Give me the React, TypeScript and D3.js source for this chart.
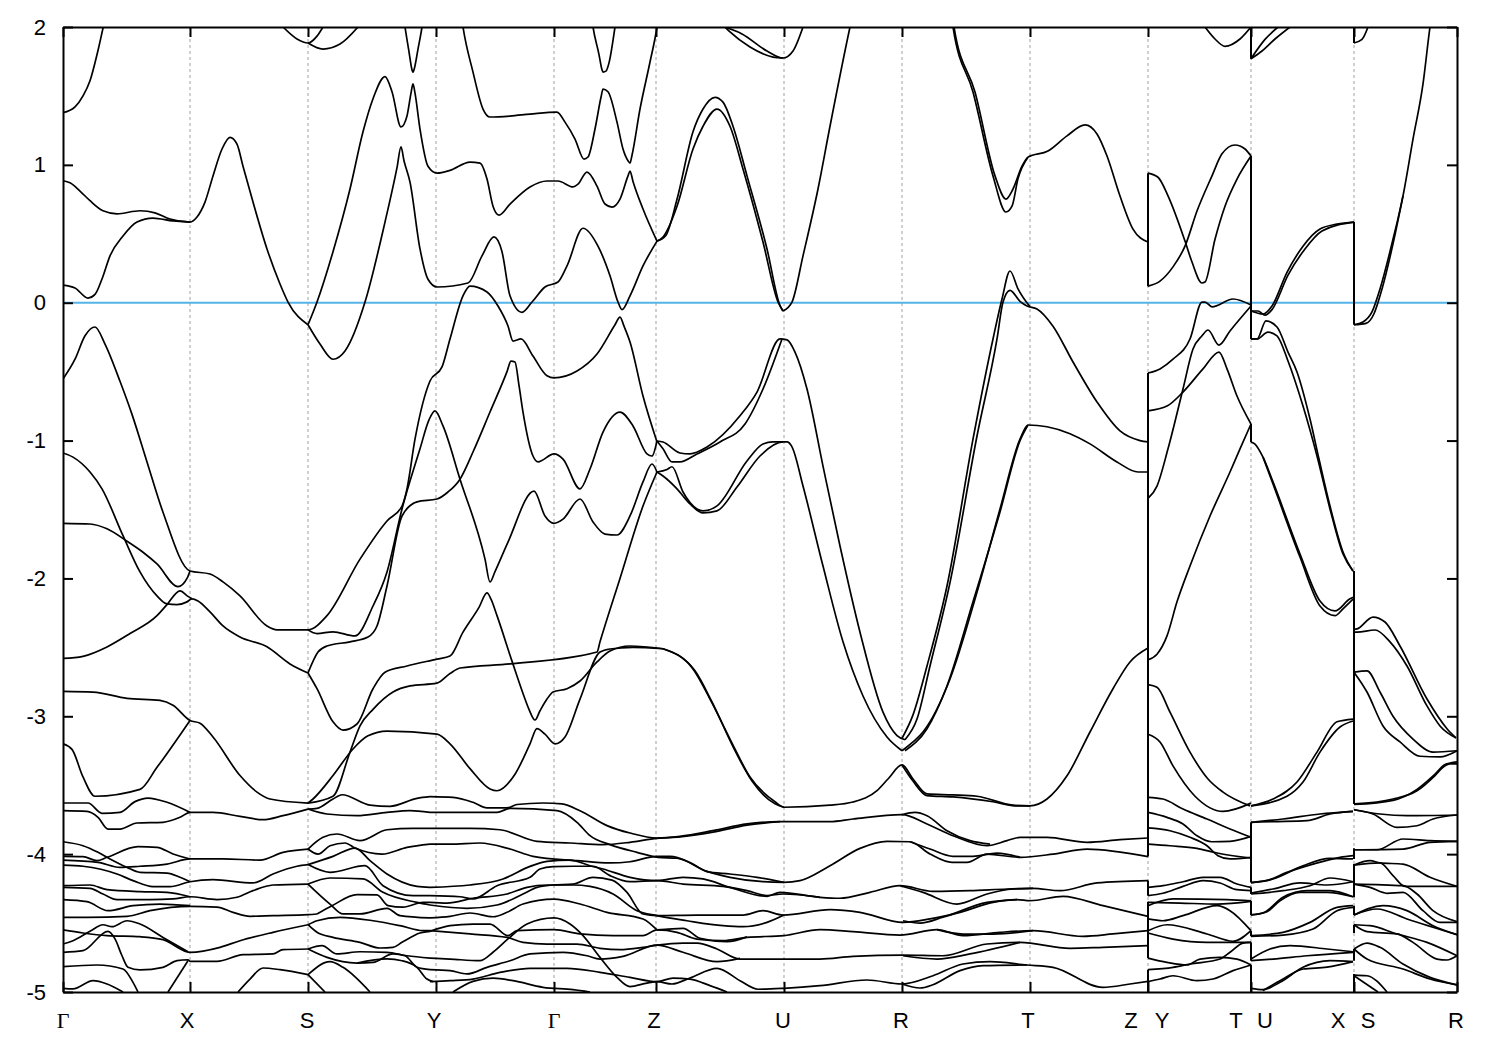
import { useEffect, useRef } from "react";
import * as d3 from "d3";

// k is the distance along the path, E the energy. Every band is a flat list: k, E, k, E, ...
const tickK = [0, 127, 245, 373, 491, 593, 721, 839, 967, 1085, 1188, 1291, 1394];
const energyTicks = [2, 1, 0, -1, -2, -3, -4, -5];
const labelNames = ["Γ", "X", "S", "Y", "Γ", "Z", "U", "R", "T", "Z", "Y", "T", "U", "X", "S", "R"];
const labelK = [0, 124, 244, 371, 491, 591, 720, 838, 965, 1068, 1099, 1173, 1202, 1275, 1305, 1393];

// conduction side, above the gap
const conduction: number[][] = [
  [0, 1.378, 12, 1.42, 20, 1.5, 27, 1.61, 35, 1.83, 42, 2.05, 44, 2.1],
  [0, 0.885, 7, 0.87, 17, 0.81, 27, 0.74, 40, 0.667, 54, 0.645, 77, 0.667, 92, 0.652, 107, 0.607, 127, 0.585, 134, 0.622, 142, 0.73, 150, 0.92, 159, 1.115, 167, 1.2, 174, 1.15, 180, 0.99, 190, 0.73, 204, 0.39, 217, 0.136, 225, 0.005, 245, -0.16],
  [0, 0.128, 12, 0.107, 25, 0.034, 32, 0.06, 39, 0.172, 47, 0.34, 60, 0.484, 74, 0.585, 90, 0.614, 110, 0.593, 127, 0.585],
  [245, -0.16, 257, -0.3, 270, -0.41, 282, -0.35, 302, 0.005, 322, 0.585, 334, 0.98, 338, 1.13, 341, 1.03, 347, 0.875, 357, 0.39, 365, 0.17, 374, 0.114, 405, 0.143, 419, 0.34, 431, 0.477, 439, 0.37, 447, 0.05, 459, -0.07, 469, 0.005, 482, 0.114, 495, 0.15, 504, 0.267, 520, 0.54, 535, 0.41, 547, 0.195, 555, 0.005, 559, -0.05, 567, 0.05, 580, 0.267, 594, 0.447],
  [245, -0.16, 254, 0.005, 270, 0.37, 287, 0.825, 300, 1.24, 310, 1.48, 322, 1.64, 329, 1.53, 338, 1.275, 344, 1.355, 348, 1.52, 350, 1.587, 352, 1.52, 357, 1.26, 365, 0.99, 374, 0.94, 387, 0.96, 407, 1.02, 417, 1.013, 424, 0.897, 430, 0.7, 436, 0.636, 447, 0.716, 467, 0.84, 484, 0.883, 495, 0.883, 510, 0.84, 515, 0.86, 524, 0.948, 534, 0.846, 542, 0.716, 549, 0.694, 557, 0.752, 565, 0.92, 567, 0.955, 570, 0.88, 580, 0.68, 594, 0.447],
  [594, 0.447, 600, 0.477, 614, 0.7, 630, 1.115, 640, 1.28, 654, 1.405, 667, 1.28, 680, 0.97, 700, 0.44, 715, 0.005, 720, -0.06],
  [594, 0.447, 603, 0.49, 614, 0.75, 630, 1.24, 640, 1.405, 652, 1.49, 660, 1.455, 670, 1.28, 684, 0.92, 704, 0.39, 717, -0.02, 720, -0.06],
  [720, -0.06, 729, 0.005, 740, 0.34, 755, 0.825, 767, 1.28, 787, 2.0, 790, 2.1],
  [340, 2.1, 342, 2.0, 346, 1.82, 349, 1.69, 350, 1.673, 351, 1.69, 355, 1.84, 359, 2.0, 361, 2.1],
  [398, 2.1, 400, 2.0, 410, 1.673, 420, 1.405, 427, 1.347, 447, 1.354, 467, 1.368, 494, 1.383, 502, 1.31, 512, 1.187, 521, 1.042, 525, 1.057, 532, 1.26, 538, 1.49, 540, 1.55, 545, 1.53, 554, 1.31, 560, 1.115, 565, 1.03, 567, 1.013, 569, 1.07, 577, 1.405, 587, 1.746, 594, 2.0, 596, 2.1],
  [528, 2.1, 530, 2.0, 536, 1.8, 539, 1.69, 540, 1.673, 543, 1.68, 546, 1.74, 552, 2.0, 554, 2.1],
  [220, 2.0, 234, 1.913, 245, 1.884, 254, 1.934, 260, 2.0],
  [245, 1.884, 260, 1.84, 277, 1.876, 295, 2.0],
  [662, 2.0, 679, 1.95, 704, 1.826, 720, 1.775, 730, 1.826, 740, 2.0],
  [662, 2.0, 667, 1.964, 687, 1.855, 710, 1.782, 720, 1.775],
  [888, 2.1, 890, 2.0, 910, 1.528, 930, 0.92, 943, 0.658, 949, 0.7, 955, 0.9, 965, 1.056],
  [889, 2.1, 891, 2.0, 912, 1.528, 932, 0.92, 943, 0.752, 950, 0.825, 959, 0.99, 965, 1.056, 985, 1.1, 1004, 1.21, 1022, 1.29, 1034, 1.224, 1044, 1.064, 1057, 0.774, 1070, 0.534, 1085, 0.44],
];

// valence side, from -0.1 down to -3.6, first half of the path
const valenceLeft: number[][] = [
  [0, -0.553, 12, -0.41, 22, -0.24, 32, -0.176, 42, -0.3, 57, -0.57, 69, -0.81, 84, -1.155, 100, -1.52, 127, -1.946, 147, -1.968, 160, -2.025, 177, -2.127, 204, -2.345, 214, -2.373, 245, -2.373, 264, -2.27, 297, -1.86, 324, -1.583, 339, -1.475, 344, -1.35, 352, -0.99, 367, -0.568, 379, -0.466, 387, -0.263, 400, 0.05, 407, 0.12, 424, 0.078, 435, -0.024, 445, -0.169, 450, -0.278, 458, -0.263, 470, -0.387, 484, -0.53, 491, -0.545, 514, -0.495, 534, -0.372, 552, -0.16, 557, -0.104, 561, -0.17, 567, -0.285, 580, -0.677, 594, -1.01],
  [0, -1.09, 10, -1.12, 27, -1.228, 39, -1.35, 60, -1.69, 77, -1.953, 94, -2.127, 104, -2.185, 114, -2.19, 124, -2.17, 129, -2.148, 135, -2.163, 147, -2.243, 160, -2.345, 177, -2.425, 204, -2.496, 227, -2.62, 245, -2.686],
  [0, -1.6, 27, -1.605, 44, -1.64, 64, -1.73, 80, -1.81, 94, -1.895, 115, -2.06, 124, -2.0, 127, -1.946],
  [0, -2.58, 20, -2.565, 44, -2.497, 67, -2.4, 94, -2.27, 104, -2.19, 117, -2.09, 125, -2.13, 129, -2.148],
  [0, -2.82, 30, -2.825, 64, -2.87, 97, -2.885, 110, -2.92, 127, -3.03, 137, -3.05, 150, -3.15, 177, -3.43, 194, -3.55, 207, -3.6, 245, -3.63],
  [0, -3.2, 9, -3.24, 20, -3.44, 32, -3.58, 77, -3.53, 94, -3.37, 127, -3.03],
  [245, -2.373, 254, -2.4, 270, -2.387, 292, -2.417, 310, -2.2, 324, -1.953, 339, -1.496, 357, -1.06, 366, -0.85, 372, -0.785, 380, -0.894, 397, -1.28, 422, -1.86, 427, -2.026, 432, -1.95, 445, -1.736, 471, -1.366, 482, -1.547, 491, -1.6, 500, -1.57, 517, -1.424, 530, -1.59, 542, -1.678, 554, -1.685, 567, -1.547, 580, -1.3, 589, -1.17, 594, -1.228],
  [245, -2.686, 255, -2.534, 264, -2.49, 287, -2.46, 305, -2.425, 314, -2.345, 324, -2.055, 339, -1.547, 354, -1.445, 374, -1.424, 385, -1.373, 397, -1.28, 410, -1.083, 427, -0.793, 444, -0.5, 448, -0.423, 452, -0.43, 456, -0.6, 460, -0.793, 470, -1.112, 475, -1.155, 491, -1.097, 500, -1.134, 517, -1.35, 527, -1.206, 540, -0.938, 557, -0.793, 570, -0.894, 584, -1.097, 589, -1.112, 594, -1.003],
  [245, -2.686, 254, -2.8, 270, -3.04, 280, -3.1, 294, -3.056, 310, -2.8, 322, -2.68, 344, -2.635, 374, -2.585, 387, -2.563, 400, -2.39, 416, -2.21, 424, -2.105, 428, -2.15, 434, -2.27, 449, -2.6, 462, -2.875, 466, -2.95, 472, -3.027, 477, -2.96, 484, -2.875, 490, -2.824, 504, -2.8, 517, -2.744, 534, -2.606, 547, -2.527, 567, -2.49, 600, -2.51],
  [245, -3.63, 250, -3.6, 270, -3.43, 290, -3.237, 305, -3.142, 324, -3.107, 374, -3.13, 387, -3.2, 407, -3.38, 427, -3.527, 434, -3.54, 452, -3.42, 467, -3.2, 474, -3.09, 482, -3.13, 492, -3.2, 502, -3.15, 517, -2.875, 537, -2.534, 547, -2.512, 570, -2.5, 600, -2.51],
  [245, -3.63, 270, -3.58, 287, -3.26, 297, -3.07, 310, -2.95, 330, -2.824, 347, -2.78, 374, -2.76, 387, -2.69, 397, -2.65, 447, -2.62, 534, -2.534, 537, -2.46, 557, -2.0, 580, -1.475, 594, -1.228],
];

// valence side, Z to the second Z
const valenceMiddle: number[][] = [
  [594, -1.003, 600, -1.01, 617, -1.09, 627, -1.097, 644, -1.047, 677, -0.82, 694, -0.648, 717, -0.263, 724, -0.27, 732, -0.358, 744, -0.626, 760, -1.185, 777, -1.765, 797, -2.39, 820, -2.97, 834, -3.14, 842, -3.17],
  [594, -1.003, 600, -1.06, 609, -1.155, 617, -1.155, 634, -1.097, 657, -1.01, 682, -0.88, 700, -0.626, 719, -0.263],
  [594, -1.228, 600, -1.257, 614, -1.35, 627, -1.46, 640, -1.525, 654, -1.51, 674, -1.337, 697, -1.112, 720, -1.01, 724, -1.01, 729, -1.046, 740, -1.33, 760, -1.91, 780, -2.46, 800, -2.853, 824, -3.15, 839, -3.25],
  [594, -1.228, 604, -1.21, 609, -1.19, 620, -1.373, 634, -1.496, 640, -1.51, 654, -1.474, 684, -1.148, 700, -1.025, 710, -1.01, 720, -1.01],
  [600, -2.51, 630, -2.657, 647, -2.875, 667, -3.165, 687, -3.44, 712, -3.62, 721, -3.66, 767, -3.645, 790, -3.622, 814, -3.54, 825, -3.455, 839, -3.353, 850, -3.455, 864, -3.563, 890, -3.57, 914, -3.58, 950, -3.645, 967, -3.65, 984, -3.6, 1004, -3.432, 1027, -3.114, 1050, -2.8, 1067, -2.606, 1085, -2.505],
  [600, -2.51, 632, -2.67, 649, -2.896, 670, -3.22, 689, -3.47, 712, -3.635, 721, -3.66],
  [839, -3.353, 850, -3.47, 864, -3.575, 890, -3.585, 930, -3.62, 954, -3.65, 967, -3.65],
  [839, -3.16, 850, -2.99, 864, -2.635, 884, -2.055, 910, -0.99, 930, -0.263, 939, 0.027, 947, 0.23, 955, 0.1, 967, -0.03],
  [842, -3.17, 854, -3.02, 867, -2.635, 887, -2.03, 914, -0.967, 934, -0.263, 940, 0.005, 947, 0.09, 957, 0.01, 964, -0.024, 974, -0.045, 990, -0.17, 1010, -0.43, 1034, -0.72, 1057, -0.93, 1077, -1.0, 1085, -1.01],
  [839, -3.25, 850, -3.186, 860, -3.114, 887, -2.73, 914, -2.1, 937, -1.497, 957, -0.99, 965, -0.887, 984, -0.9, 1007, -0.95, 1027, -1.024, 1054, -1.155, 1075, -1.228, 1085, -1.228],
  [842, -3.25, 864, -3.09, 884, -2.78, 910, -2.17, 937, -1.518, 957, -1.0, 965, -0.887],
];

// valence and conduction side on the three short panels at the right
const rightPanels: number[][] = [
  [1085, 0.94, 1095, 0.91, 1105, 0.775, 1122, 0.447, 1129, 0.295, 1139, 0.143, 1142, 0.15, 1152, 0.46, 1162, 0.7, 1174, 0.897, 1188, 1.064],
  [1085, 0.12, 1097, 0.157, 1110, 0.26, 1122, 0.41, 1134, 0.665, 1149, 0.92, 1159, 1.08, 1172, 1.144, 1182, 1.115, 1188, 1.064],
  [1085, -0.51, 1097, -0.48, 1110, -0.41, 1127, -0.263, 1139, 0.005, 1142, 0.005, 1149, -0.03, 1170, 0.027, 1188, -0.017],
  [1085, -0.785, 1104, -0.75, 1120, -0.648, 1140, -0.48, 1156, -0.358, 1164, -0.48, 1174, -0.677, 1188, -0.88],
  [1085, -1.42, 1094, -1.33, 1105, -1.06, 1120, -0.626, 1130, -0.336, 1139, -0.24, 1145, -0.198, 1156, -0.307, 1167, -0.205, 1188, -0.024],
  [1085, -2.59, 1094, -2.55, 1104, -2.417, 1114, -2.17, 1127, -1.91, 1147, -1.547, 1167, -1.228, 1177, -1.06, 1188, -0.88],
  [1085, -2.77, 1094, -2.79, 1107, -2.97, 1127, -3.26, 1145, -3.455, 1160, -3.55, 1187, -3.65],
  [1085, -3.13, 1097, -3.186, 1110, -3.36, 1132, -3.58, 1160, -3.69, 1188, -3.63],
  [1188, -3.65, 1210, -3.6, 1234, -3.477, 1254, -3.26, 1274, -3.04, 1290, -3.02],
  [1188, -3.65, 1224, -3.58, 1240, -3.477, 1257, -3.26, 1277, -3.078, 1290, -3.034],
  [1188, -0.263, 1194, -0.263, 1203, -0.132, 1214, -0.176, 1225, -0.358, 1234, -0.503, 1247, -0.844, 1256, -1.134, 1267, -1.475, 1280, -1.808, 1290, -1.946],
  [1188, -0.263, 1194, -0.263, 1205, -0.213, 1214, -0.24, 1225, -0.423, 1240, -0.75, 1254, -1.112, 1267, -1.496, 1280, -1.823, 1290, -1.946],
  [1188, -0.06, 1200, -0.082, 1209, -0.024, 1224, 0.22, 1240, 0.41, 1257, 0.535, 1274, 0.57, 1291, 0.585],
  [1188, -0.06, 1195, -0.06, 1202, -0.09, 1209, -0.05, 1225, 0.2, 1242, 0.39, 1259, 0.52, 1291, 0.585],
  [1291, -0.16, 1300, -0.14, 1309, -0.067, 1317, 0.1, 1330, 0.46, 1340, 0.775, 1350, 1.187, 1360, 1.587, 1367, 2.0, 1369, 2.1],
  [1291, -0.16, 1303, -0.15, 1311, -0.08, 1319, 0.1, 1331, 0.46, 1340, 0.775],
  [1142, 2.0, 1152, 1.913, 1162, 1.86, 1177, 1.913, 1188, 2.0],
  [1188, 1.77, 1199, 1.826, 1212, 1.913, 1227, 2.0],
  [1188, 1.77, 1202, 1.91, 1215, 2.0],
  [1291, 1.884, 1299, 1.91, 1305, 2.0],
  [1188, -1.01, 1192, -1.025, 1200, -1.12, 1210, -1.3, 1237, -1.823, 1257, -2.164, 1272, -2.236, 1287, -2.148, 1291, -2.135],
  [1200, -1.12, 1210, -1.315, 1237, -1.845, 1257, -2.2, 1272, -2.27, 1280, -2.22, 1290, -2.15],
  [1291, -2.37, 1294, -2.366, 1310, -2.28, 1322, -2.316, 1337, -2.49, 1364, -2.875, 1384, -3.09, 1393, -3.157],
  [1291, -2.39, 1294, -2.39, 1312, -2.374, 1327, -2.46, 1344, -2.635, 1364, -2.925, 1377, -3.07, 1393, -3.157],
  [1291, -2.68, 1304, -2.67, 1317, -2.824, 1330, -3.0, 1350, -3.165, 1370, -3.26, 1394, -3.25],
  [1291, -2.68, 1304, -2.824, 1320, -3.07, 1337, -3.186, 1357, -3.29, 1377, -3.295, 1394, -3.25],
  [1291, -3.636, 1330, -3.6, 1354, -3.54, 1372, -3.43, 1380, -3.37, 1387, -3.345, 1394, -3.345],
  [1291, -3.64, 1330, -3.61, 1354, -3.53, 1372, -3.42, 1382, -3.35, 1394, -3.33],
];

// the dense group below -3.6, Gamma to Y
const lowLeft: number[][] = [
  [0, -3.629, 25, -3.629, 39, -3.704, 57, -3.697, 72, -3.619, 85, -3.593, 104, -3.624, 127, -3.697],
  [0, -3.685, 24, -3.69, 35, -3.733, 45, -3.818, 57, -3.818, 74, -3.774, 100, -3.769, 117, -3.733, 127, -3.697, 150, -3.697, 177, -3.726, 200, -3.75, 220, -3.721, 245, -3.673],
  [245, -3.673, 254, -3.668, 270, -3.6, 279, -3.569, 307, -3.644, 327, -3.653, 354, -3.595, 367, -3.583],
  [245, -3.673, 264, -3.709, 294, -3.721, 324, -3.697, 347, -3.685, 367, -3.697],
  [0, -3.91, 20, -3.939, 35, -3.987, 47, -4.035, 64, -4.096, 77, -4.132, 104, -4.137, 117, -4.168, 127, -4.2],
  [0, -4.016, 20, -4.018, 34, -4.047, 44, -4.023, 75, -3.946, 94, -3.951, 110, -3.999, 127, -4.035],
  [0, -4.043, 35, -4.06, 57, -4.096, 77, -4.088, 104, -4.072, 127, -4.035, 160, -4.035, 197, -4.043, 220, -3.987, 245, -3.963],
  [0, -4.079, 20, -4.088, 54, -4.144, 70, -4.192, 90, -4.236, 107, -4.236, 127, -4.2, 150, -4.185, 190, -4.209, 210, -4.144, 234, -4.088, 245, -4.076],
  [0, -4.229, 27, -4.224, 44, -4.258, 77, -4.272, 104, -4.277, 127, -4.309],
  [0, -4.241, 27, -4.248, 40, -4.289, 54, -4.33, 87, -4.33, 110, -4.325, 127, -4.309, 154, -4.33, 174, -4.313, 190, -4.265, 210, -4.224, 245, -4.217],
  [0, -4.33, 24, -4.345, 45, -4.41, 70, -4.374, 97, -4.362, 127, -4.374],
  [0, -4.458, 24, -4.458, 64, -4.451, 87, -4.41, 127, -4.379, 154, -4.384, 170, -4.422, 187, -4.451, 210, -4.446, 245, -4.439, 254, -4.434],
  [0, -4.55, 20, -4.572, 44, -4.591, 77, -4.599, 100, -4.62, 127, -4.712, 157, -4.676, 177, -4.628, 210, -4.567, 245, -4.512],
  [0, -4.652, 10, -4.628, 27, -4.56, 40, -4.512, 49, -4.526, 64, -4.483, 77, -4.507, 100, -4.604, 125, -4.708],
  [0, -4.712, 20, -4.7, 45, -4.56, 52, -4.615, 59, -4.737, 65, -4.821, 77, -4.84, 100, -4.821, 114, -4.773, 125, -4.766, 127, -4.778, 154, -4.778, 180, -4.729, 210, -4.724, 220, -4.693, 245, -4.688],
  [0, -4.816, 34, -4.804, 60, -4.833, 70, -4.93, 75, -5.0],
  [0, -4.974, 10, -4.978, 30, -4.918, 44, -4.942, 60, -5.0],
  [105, -5.0, 125, -4.773],
  [175, -5.0, 187, -4.906, 200, -4.826, 217, -4.838, 245, -4.874],
  [245, -3.963, 260, -3.878, 274, -3.854, 297, -3.902, 324, -3.823, 350, -3.813, 367, -3.813],
  [245, -3.963, 255, -4.0, 267, -3.939, 282, -3.919, 292, -3.956, 319, -4.0, 344, -3.951, 367, -3.927],
  [245, -4.076, 270, -4.016, 292, -3.956, 307, -4.047, 324, -4.144, 354, -4.234, 367, -4.241],
  [245, -4.076, 267, -4.132, 302, -4.084, 320, -4.229, 350, -4.301, 367, -4.301],
  [245, -4.217, 267, -4.173, 300, -4.18, 320, -4.277, 354, -4.35, 367, -4.369],
  [245, -4.217, 267, -4.362, 280, -4.434, 297, -4.434, 324, -4.393, 337, -4.446, 367, -4.463],
  [254, -4.434, 269, -4.374, 294, -4.294, 314, -4.296, 325, -4.374, 340, -4.385, 360, -4.35, 367, -4.35],
  [245, -4.512, 254, -4.483, 277, -4.458, 310, -4.483, 337, -4.519, 360, -4.555, 367, -4.555],
  [245, -4.512, 254, -4.567, 270, -4.604, 297, -4.64, 317, -4.681, 330, -4.676, 339, -4.64, 357, -4.572, 367, -4.56],
  [245, -4.688, 259, -4.664, 274, -4.724, 297, -4.708, 324, -4.712, 344, -4.737, 367, -4.754],
  [245, -4.688, 264, -4.749, 294, -4.79, 310, -4.785, 330, -4.724, 342, -4.737, 354, -4.821, 367, -4.838],
  [294, -4.79, 324, -4.76, 339, -4.773, 354, -4.821, 364, -4.906, 370, -4.925],
  [245, -4.874, 267, -4.78, 280, -4.821, 307, -5.0],
  [245, -4.874, 262, -5.0],
];

// the dense group below -3.6, Y to the second Z
const lowMiddle: number[][] = [
  [367, -3.583, 390, -3.588, 410, -3.624, 424, -3.665, 444, -3.665, 454, -3.64, 480, -3.629, 499, -3.636, 517, -3.685, 544, -3.793, 567, -3.847, 594, -3.883, 617, -3.871, 650, -3.83, 684, -3.781, 717, -3.764, 767, -3.764, 790, -3.745, 839, -3.714, 864, -3.781, 890, -3.866, 924, -3.939, 944, -3.902, 957, -3.878, 984, -3.878, 1024, -3.914, 1057, -3.895, 1085, -3.883],
  [839, -3.714, 852, -3.697, 864, -3.721, 884, -3.83, 907, -3.902, 927, -3.927],
  [367, -3.697, 434, -3.697, 447, -3.668, 494, -3.685, 514, -3.769, 527, -3.866, 547, -3.931, 574, -3.987, 595, -4.023, 614, -4.03, 644, -4.125, 667, -4.168, 700, -4.2, 721, -4.205, 737, -4.192, 767, -4.084, 797, -3.958, 824, -3.907, 847, -3.91, 867, -3.999, 889, -4.06, 904, -4.06, 924, -4.0, 957, -4.023, 990, -4.0, 1024, -3.963, 1085, -4.018],
  [847, -3.91, 867, -3.963, 890, -4.016, 910, -4.016, 934, -3.992, 957, -4.023],
  [367, -3.813, 407, -3.813, 437, -3.823, 474, -3.907, 507, -3.919, 540, -3.931, 567, -3.914, 594, -3.885, 617, -3.875, 650, -3.84, 684, -3.79, 717, -3.764],
  [367, -3.927, 387, -3.927, 417, -3.919, 447, -3.963, 470, -4.016, 514, -4.047, 547, -4.064, 567, -4.055, 594, -4.016, 607, -4.016, 627, -4.06, 644, -4.127, 667, -4.144, 694, -4.168, 721, -4.205],
  [367, -4.241, 407, -4.224, 440, -4.18, 467, -4.089, 484, -4.052, 507, -4.043, 527, -4.084, 540, -4.108, 567, -4.168, 594, -4.192, 620, -4.168, 640, -4.18, 667, -4.241, 704, -4.306, 717, -4.277, 757, -4.313, 777, -4.32, 807, -4.277, 837, -4.229, 870, -4.27, 907, -4.265, 944, -4.253, 970, -4.248, 997, -4.265, 1034, -4.209, 1085, -4.192],
  [837, -4.229, 860, -4.277, 894, -4.362, 924, -4.289, 950, -4.253, 970, -4.248],
  [367, -4.301, 397, -4.309, 410, -4.325, 434, -4.229, 467, -4.168, 477, -4.108, 490, -4.091, 510, -4.088, 530, -4.088, 547, -4.156, 567, -4.2, 594, -4.192, 620, -4.217, 660, -4.234, 684, -4.265, 704, -4.3, 720, -4.289, 757, -4.313],
  [367, -4.369, 404, -4.393, 434, -4.369, 460, -4.289, 474, -4.241, 490, -4.224, 510, -4.217, 530, -4.168, 549, -4.188, 564, -4.277, 580, -4.434, 594, -4.446, 634, -4.442, 680, -4.442, 700, -4.41, 720, -4.442, 767, -4.403, 797, -4.422, 840, -4.495, 867, -4.47, 897, -4.422, 930, -4.35, 954, -4.33, 967, -4.338, 1000, -4.306, 1040, -4.374, 1085, -4.451],
  [840, -4.483, 857, -4.5, 880, -4.458, 924, -4.35, 954, -4.33],
  [367, -4.35, 384, -4.355, 410, -4.32, 444, -4.289, 464, -4.241, 484, -4.224, 510, -4.224, 527, -4.234, 550, -4.289, 574, -4.41, 594, -4.446, 624, -4.483, 660, -4.519, 680, -4.526, 704, -4.495, 721, -4.442],
  [367, -4.463, 387, -4.451, 407, -4.427, 430, -4.454, 444, -4.422, 460, -4.362, 491, -4.326, 517, -4.362, 544, -4.422, 580, -4.47, 594, -4.55],
  [367, -4.56, 387, -4.519, 410, -4.507, 427, -4.507, 445, -4.591, 454, -4.555, 491, -4.548, 517, -4.579, 550, -4.591, 580, -4.591, 594, -4.55, 614, -4.567, 634, -4.616, 660, -4.628, 684, -4.604, 721, -4.591, 757, -4.548, 790, -4.562, 837, -4.587, 874, -4.548, 900, -4.591, 937, -4.567, 970, -4.555, 1020, -4.596, 1050, -4.579, 1085, -4.555],
  [594, -4.55, 620, -4.538, 637, -4.61, 664, -4.635, 684, -4.6],
  [874, -4.548, 900, -4.58, 930, -4.58, 970, -4.555],
  [367, -4.555, 407, -4.579, 444, -4.604, 460, -4.64, 484, -4.652, 514, -4.652, 537, -4.683, 557, -4.693, 580, -4.676, 594, -4.66, 620, -4.645, 634, -4.645, 654, -4.688, 677, -4.761, 721, -4.761, 757, -4.761, 790, -4.741, 840, -4.732, 880, -4.737, 924, -4.652, 957, -4.64, 1007, -4.683, 1040, -4.676, 1085, -4.664],
  [840, -4.737, 874, -4.761, 907, -4.724, 957, -4.64],
  [367, -4.754, 387, -4.761, 417, -4.773, 430, -4.712, 445, -4.615, 464, -4.507, 491, -4.463, 507, -4.507, 520, -4.591, 537, -4.749, 554, -4.894, 567, -4.961, 584, -4.935, 594, -4.925, 609, -4.942, 627, -4.898, 654, -4.828, 677, -4.918, 695, -4.98, 721, -4.973, 757, -4.954, 804, -4.913, 839, -4.942, 870, -4.882, 900, -4.797, 927, -4.78, 964, -4.804, 990, -4.821, 1040, -4.966, 1067, -4.942, 1085, -4.923],
  [839, -4.942, 857, -4.971, 870, -4.947, 897, -4.845, 920, -4.809, 964, -4.804],
  [367, -4.838, 387, -4.845, 404, -4.869, 424, -4.821, 447, -4.773, 467, -4.724, 500, -4.712, 524, -4.737, 537, -4.761, 560, -4.741, 594, -4.66, 620, -4.712, 654, -4.78, 677, -4.756],
  [367, -4.925, 387, -4.918, 410, -4.906, 437, -4.858, 467, -4.828, 504, -4.828, 537, -4.857, 567, -4.894, 594, -4.925, 610, -4.899, 627, -4.906, 647, -4.954, 664, -5.0],
  [390, -5.0, 410, -4.923, 430, -4.9, 450, -4.918, 480, -4.966, 510, -4.983, 527, -5.0],
];

// the dense group below -3.6, short panels
const lowRight: number[][] = [
  [1085, -3.588, 1100, -3.6, 1120, -3.673, 1144, -3.745, 1167, -3.818, 1188, -3.878],
  [1085, -3.697, 1104, -3.733, 1120, -3.781, 1134, -3.866, 1149, -3.91, 1167, -3.907, 1188, -3.871],
  [1085, -3.81, 1107, -3.83, 1127, -3.878, 1144, -3.939, 1155, -4.011, 1167, -4.035, 1188, -4.023],
  [1085, -3.927, 1107, -3.939, 1134, -3.958, 1154, -3.992, 1188, -4.028],
  [1085, -4.241, 1100, -4.229, 1120, -4.2, 1140, -4.168, 1157, -4.168, 1174, -4.217, 1188, -4.241],
  [1085, -4.301, 1100, -4.284, 1120, -4.234, 1140, -4.192, 1157, -4.209, 1174, -4.258, 1188, -4.265],
  [1085, -4.374, 1110, -4.325, 1164, -4.33, 1188, -4.338],
  [1085, -4.35, 1117, -4.355, 1154, -4.362, 1188, -4.342],
  [1085, -4.47, 1100, -4.483, 1120, -4.446, 1154, -4.374, 1167, -4.41, 1188, -4.555],
  [1085, -4.555, 1104, -4.512, 1144, -4.579, 1170, -4.632, 1188, -4.555],
  [1085, -4.572, 1110, -4.616, 1144, -4.64, 1174, -4.64, 1188, -4.64],
  [1085, -4.754, 1104, -4.785, 1124, -4.804, 1137, -4.761, 1157, -4.749, 1174, -4.761, 1188, -4.804],
  [1085, -4.838, 1110, -4.821, 1127, -4.797, 1157, -4.761, 1167, -4.712, 1180, -4.645, 1188, -4.64],
  [1085, -4.925, 1097, -4.906, 1110, -4.882, 1134, -4.918, 1150, -4.906, 1170, -4.845, 1188, -4.804],
  [1188, -3.769, 1220, -3.745, 1257, -3.709, 1290, -3.69],
  [1188, -3.769, 1210, -3.764, 1244, -3.757, 1267, -3.709, 1290, -3.69],
  [1188, -4.205, 1204, -4.192, 1224, -4.132, 1250, -4.072, 1277, -4.023, 1290, -4.011],
  [1188, -4.209, 1210, -4.18, 1240, -4.084, 1267, -4.03, 1290, -4.035],
  [1188, -4.282, 1210, -4.253, 1237, -4.209, 1264, -4.224, 1290, -4.2],
  [1188, -4.289, 1220, -4.265, 1247, -4.229, 1267, -4.173, 1290, -4.2],
  [1188, -4.441, 1204, -4.417, 1217, -4.338, 1237, -4.277, 1264, -4.277, 1290, -4.309],
  [1188, -4.441, 1200, -4.427, 1220, -4.313, 1244, -4.265, 1267, -4.265, 1290, -4.309],
  [1188, -4.591, 1220, -4.567, 1247, -4.495, 1274, -4.386, 1290, -4.374],
  [1188, -4.596, 1220, -4.587, 1250, -4.543, 1274, -4.41, 1290, -4.386],
  [1188, -4.761, 1207, -4.688, 1227, -4.664, 1264, -4.688, 1290, -4.708],
  [1188, -4.773, 1210, -4.761, 1244, -4.737, 1290, -4.712],
  [1188, -4.974, 1200, -4.983, 1217, -4.93, 1240, -4.821, 1267, -4.773, 1290, -4.78],
  [1200, -4.99, 1220, -4.906, 1240, -4.833, 1264, -4.82, 1290, -4.78],
  [1291, -3.678, 1317, -3.709, 1344, -3.721, 1394, -3.716],
  [1291, -3.678, 1310, -3.709, 1334, -3.806, 1354, -3.794, 1370, -3.745, 1394, -3.716],
  [1291, -3.968, 1314, -3.968, 1340, -3.89, 1367, -3.902, 1394, -3.907],
  [1291, -3.968, 1340, -3.963, 1367, -3.914, 1394, -3.907],
  [1291, -4.079, 1307, -4.047, 1317, -4.064, 1340, -4.072, 1367, -4.168, 1394, -4.234],
  [1291, -4.079, 1317, -4.064, 1330, -4.156, 1342, -4.234, 1394, -4.234],
  [1291, -4.217, 1307, -4.241, 1324, -4.284, 1340, -4.277, 1360, -4.41, 1377, -4.495, 1394, -4.495],
  [1291, -4.217, 1340, -4.229, 1354, -4.289, 1370, -4.41, 1394, -4.49],
  [1291, -4.441, 1320, -4.374, 1344, -4.41, 1370, -4.519, 1394, -4.584],
  [1291, -4.441, 1314, -4.398, 1344, -4.47, 1394, -4.584],
  [1291, -4.512, 1307, -4.519, 1334, -4.579, 1364, -4.64, 1394, -4.737],
  [1291, -4.512, 1304, -4.562, 1334, -4.579, 1350, -4.64, 1374, -4.761, 1384, -4.768, 1394, -4.737],
  [1291, -4.688, 1304, -4.645, 1317, -4.676, 1340, -4.797, 1367, -4.894, 1394, -4.949],
  [1291, -4.688, 1304, -4.761, 1340, -4.833, 1367, -4.906, 1394, -4.949],
  [1291, -4.877, 1304, -4.882, 1324, -5.0],
  [1291, -4.882, 1315, -5.0],
];

// vertical jumps where the path breaks: k, top E, bottom E
const jumps: number[][] = [
  [1085, 0.94, 0.12], [1085, -0.51, -3.588], [1085, -3.58, -4.018], [1085, -4.192, -4.301], [1085, -4.345, -4.754], [1085, -4.838, -5],
  [1188, 2, 1.77], [1188, 1.064, -0.263], [1188, -0.88, -1.01], [1188, -3.769, -4.205], [1188, -4.241, -4.289], [1188, -4.338, -4.441], [1188, -4.555, -4.596], [1188, -4.64, -4.773], [1188, -4.804, -5],
  [1291, 2, 1.884], [1291, 0.585, -0.16], [1291, -1.946, -3.636], [1291, -3.958, -4.035], [1291, -4.072, -4.313], [1291, -4.374, -4.441], [1291, -4.512, -4.572], [1291, -4.688, -4.773], [1291, -4.87, -5],
];

const allBands = [...conduction, ...valenceLeft, ...valenceMiddle, ...rightPanels, ...lowLeft, ...lowMiddle, ...lowRight];

const toPoints = (flat: number[]): [number, number][] => {
  const out: [number, number][] = [];
  for (let i = 0; i < flat.length; i += 2) out.push([flat[i], flat[i + 1]]);
  return out;
};

export default function App() {
  const ref = useRef<HTMLDivElement>(null);

  useEffect(() => {
    if (!ref.current) return;

    const width = 1500;
    const height = 1050;
    const marginTop = 27;
    const marginRight = 43;
    const marginBottom = 58;
    const marginLeft = 63;
    const font = "'Liberation Sans', Arial, sans-serif";

    d3.select(ref.current).selectAll("*").remove();

    const x = d3.scaleLinear().domain([0, 1394]).range([marginLeft, width - marginRight]);
    const y = d3.scaleLinear().domain([-5, 2]).range([height - marginBottom, marginTop]);

    const svg = d3
      .select(ref.current)
      .append("svg")
      .attr("width", width)
      .attr("height", height)
      .style("position", "absolute")
      .style("left", 0)
      .style("top", 0)
      .style("background", "#fff");

    svg
      .append("clipPath")
      .attr("id", "plot")
      .append("rect")
      .attr("x", marginLeft)
      .attr("y", marginTop)
      .attr("width", width - marginLeft - marginRight)
      .attr("height", height - marginTop - marginBottom);

    // dashed guides at the path points
    svg
      .append("g")
      .selectAll("line")
      .data(tickK.slice(1, -1))
      .join("line")
      .attr("x1", (d) => x(d))
      .attr("x2", (d) => x(d))
      .attr("y1", marginTop)
      .attr("y2", height - marginBottom)
      .attr("stroke", "#a0a0a0")
      .attr("stroke-width", 1)
      .attr("stroke-dasharray", "3,3");

    const plot = svg.append("g").attr("clip-path", "url(#plot)");

    // Fermi level
    plot
      .append("line")
      .attr("x1", marginLeft)
      .attr("x2", width - marginRight)
      .attr("y1", y(0))
      .attr("y2", y(0))
      .attr("stroke", "#56b4e9")
      .attr("stroke-width", 2);

    const line = d3
      .line<[number, number]>()
      .x((d) => x(d[0]))
      .y((d) => y(d[1]))
      .curve(d3.curveMonotoneX);

    plot
      .append("g")
      .attr("fill", "none")
      .attr("stroke", "#000")
      .attr("stroke-width", 1.7)
      .selectAll("path")
      .data(allBands)
      .join("path")
      .attr("d", (d) => line(toPoints(d)));

    plot
      .append("g")
      .attr("stroke", "#000")
      .attr("stroke-width", 2)
      .selectAll("line")
      .data(jumps)
      .join("line")
      .attr("x1", (d) => x(d[0]))
      .attr("x2", (d) => x(d[0]))
      .attr("y1", (d) => y(d[1]))
      .attr("y2", (d) => y(d[2]));

    // axes, ticks point inwards on all four sides
    const styleAxis = (g: d3.Selection<SVGGElement, unknown, null, undefined>) => {
      g.select(".domain").attr("stroke-width", 2).attr("stroke", "#000");
      g.selectAll(".tick line").attr("stroke-width", 2).attr("stroke", "#000");
    };

    svg
      .append("g")
      .attr("transform", `translate(${marginLeft},0)`)
      .call(
        d3
          .axisLeft(y)
          .tickValues(energyTicks)
          .tickSizeInner(-10)
          .tickSizeOuter(0)
          .tickPadding(17)
          .tickFormat((d) => String(d))
      )
      .call(styleAxis)
      .call((g) => g.selectAll("text").attr("font-family", font).attr("font-size", 22).attr("fill", "#000"));

    svg
      .append("g")
      .attr("transform", `translate(${width - marginRight},0)`)
      .call(d3.axisRight(y).tickValues(energyTicks).tickSizeInner(-10).tickSizeOuter(0).tickFormat(() => ""))
      .call(styleAxis);

    svg
      .append("g")
      .attr("transform", `translate(0,${height - marginBottom})`)
      .call(d3.axisBottom(x).tickValues(tickK).tickSizeInner(-10).tickSizeOuter(0).tickFormat(() => ""))
      .call(styleAxis);

    svg
      .append("g")
      .attr("transform", `translate(0,${marginTop})`)
      .call(d3.axisTop(x).tickValues(tickK).tickSizeInner(-10).tickSizeOuter(0).tickFormat(() => ""))
      .call(styleAxis);

    // path labels sit off their ticks near the breaks
    svg
      .append("g")
      .selectAll("text")
      .data(labelNames)
      .join("text")
      .attr("x", (_, i) => x(labelK[i]))
      .attr("y", height - marginBottom + 36)
      .attr("text-anchor", "middle")
      .attr("font-family", (d) => (d === "Γ" ? "'Liberation Serif', serif" : font))
      .attr("font-size", 22)
      .attr("fill", "#000")
      .text((d) => d);
  }, []);

  return <div ref={ref}></div>;
}
